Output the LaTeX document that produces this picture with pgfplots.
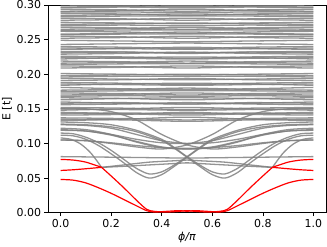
\documentclass[border=0pt]{standalone}
\usepackage{pgfplots}
\pgfplotsset{compat=1.18}
\usepackage{fontspec}
\setmainfont{DejaVu Sans}
\usetikzlibrary{calc}
\newcommand{\sym}[3]{\addplot[gl] coordinates {(0,#1)(0.25,#2)(0.5,#3)(0.75,#2)(1,#1)};}
\begin{document}
\begin{tikzpicture}
\begin{axis}[
  scale only axis, width=278bp, height=207.7bp,
  xmin=-0.05, xmax=1.05, ymin=0, ymax=0.3,
  xtick={0,0.2,0.4,0.6,0.8,1.0},
  ytick={0,0.05,0.10,0.15,0.20,0.25,0.30},
  /pgf/number format/assume math mode=true,
  xticklabel style={/pgf/number format/fixed,/pgf/number format/fixed zerofill,/pgf/number format/precision=1},
  yticklabel style={/pgf/number format/fixed,/pgf/number format/fixed zerofill,/pgf/number format/precision=2},
  tick label style={font=\fontsize{11}{13}\selectfont},
  label style={font=\fontsize{11}{13}\selectfont},
  tick align=outside, tick pos=left, major tick length=3.5bp,
  every tick/.style={black, line width=0.6pt},
  axis line style={line width=0.6pt},
  xlabel={{\itshape ϕ/π}}, ylabel={E [t]},
  xlabel style={yshift=3bp},
  ylabel style={yshift=-2bp},
  gl/.style={color=gray, opacity=0.85, line width=1.3pt, smooth, no markers},
  rl/.style={color=red, line width=1.2pt, smooth, no markers},
]
\coordinate (sw) at (rel axis cs:0,0);
\coordinate (ne) at (rel axis cs:1,1);
% upper dense levels
\sym{0.133}{0.135}{0.138}
\sym{0.135}{0.134}{0.132}
\sym{0.137}{0.136}{0.134}
\sym{0.141}{0.142}{0.145}
\sym{0.143}{0.144}{0.143}
\sym{0.145}{0.143}{0.141}
\sym{0.148}{0.150}{0.152}
\sym{0.150}{0.149}{0.148}
\sym{0.152}{0.151}{0.149}
\sym{0.156}{0.157}{0.159}
\sym{0.158}{0.159}{0.157}
\sym{0.160}{0.158}{0.157}
\sym{0.163}{0.165}{0.166}
\sym{0.166}{0.165}{0.163}
\sym{0.168}{0.169}{0.168}
\sym{0.170}{0.171}{0.173}
\sym{0.173}{0.172}{0.170}
\sym{0.175}{0.176}{0.176}
\sym{0.177}{0.178}{0.180}
\sym{0.181}{0.179}{0.178}
\sym{0.184}{0.186}{0.187}
\sym{0.186}{0.185}{0.184}
\sym{0.188}{0.187}{0.185}
\sym{0.191}{0.192}{0.194}
\sym{0.194}{0.193}{0.192}
\sym{0.196}{0.197}{0.197}
\sym{0.198}{0.199}{0.200}
\sym{0.201}{0.200}{0.199}
\sym{0.209}{0.210}{0.212}
\sym{0.212}{0.211}{0.209}
\sym{0.214}{0.215}{0.215}
\sym{0.216}{0.217}{0.219}
\sym{0.219}{0.218}{0.216}
\sym{0.222}{0.224}{0.225}
\sym{0.224}{0.223}{0.222}
\sym{0.226}{0.225}{0.223}
\sym{0.229}{0.230}{0.232}
\sym{0.231}{0.232}{0.231}
\sym{0.233}{0.232}{0.230}
\sym{0.236}{0.237}{0.239}
\sym{0.238}{0.237}{0.236}
\sym{0.240}{0.239}{0.237}
\sym{0.243}{0.244}{0.245}
\sym{0.249}{0.248}{0.247}
\sym{0.252}{0.253}{0.255}
\sym{0.255}{0.254}{0.252}
\sym{0.257}{0.258}{0.258}
\sym{0.258}{0.259}{0.261}
\sym{0.262}{0.261}{0.259}
\sym{0.263}{0.264}{0.264}
\sym{0.265}{0.266}{0.268}
\sym{0.268}{0.267}{0.265}
\sym{0.270}{0.271}{0.270}
\sym{0.272}{0.273}{0.274}
\sym{0.275}{0.274}{0.273}
\sym{0.278}{0.279}{0.281}
\sym{0.281}{0.280}{0.278}
\sym{0.283}{0.284}{0.284}
\sym{0.285}{0.286}{0.287}
\sym{0.288}{0.287}{0.285}
\sym{0.290}{0.290}{0.289}
\sym{0.291}{0.292}{0.294}
\sym{0.294}{0.293}{0.291}
\sym{0.296}{0.297}{0.296}
\sym{0.297}{0.298}{0.299}
\sym{0.300}{0.299}{0.298}
% flat low lines
\sym{0.081}{0.080}{0.079}
\addplot[gl] coordinates {(0,0.105)(0.1,0.104)(0.2,0.101)(0.3,0.097)(0.4,0.094)(0.5,0.093)(0.6,0.094)(0.7,0.097)(0.8,0.101)(0.9,0.104)(1,0.105)};
% U-shaped crossing pairs
\addplot[gl] coordinates {(0,0.112)(0.05,0.111)(0.1,0.106)(0.15,0.097)(0.2,0.085)(0.25,0.072)(0.3,0.058)(0.35,0.050)(0.4,0.055)(0.45,0.067)(0.5,0.080)(0.55,0.093)(0.6,0.104)(0.7,0.117)(0.8,0.124)(0.9,0.127)(1,0.128)};
\addplot[gl] coordinates {(1,0.112)(0.95,0.111)(0.9,0.106)(0.85,0.097)(0.8,0.085)(0.75,0.072)(0.7,0.058)(0.65,0.050)(0.6,0.055)(0.55,0.067)(0.5,0.080)(0.45,0.093)(0.4,0.104)(0.3,0.117)(0.2,0.124)(0.1,0.127)(0,0.128)};
\addplot[gl] coordinates {(0,0.115)(0.05,0.114)(0.1,0.109)(0.15,0.101)(0.2,0.090)(0.25,0.077)(0.3,0.064)(0.35,0.056)(0.4,0.059)(0.45,0.069)(0.5,0.081)(0.55,0.094)(0.6,0.106)(0.7,0.119)(0.8,0.127)(0.9,0.130)(1,0.131)};
\addplot[gl] coordinates {(1,0.115)(0.95,0.114)(0.9,0.109)(0.85,0.101)(0.8,0.090)(0.75,0.077)(0.7,0.064)(0.65,0.056)(0.6,0.059)(0.55,0.069)(0.5,0.081)(0.45,0.094)(0.4,0.106)(0.3,0.119)(0.2,0.127)(0.1,0.130)(0,0.131)};
\addplot[gl] coordinates {(0,0.122)(0.1,0.120)(0.2,0.113)(0.3,0.102)(0.4,0.094)(0.5,0.092)(0.6,0.095)(0.7,0.103)(0.8,0.112)(0.9,0.118)(1,0.120)};
\addplot[gl] coordinates {(1,0.122)(0.9,0.120)(0.8,0.113)(0.7,0.102)(0.6,0.094)(0.5,0.092)(0.4,0.095)(0.3,0.103)(0.2,0.112)(0.1,0.118)(0,0.120)};
\addplot[gl] coordinates {(0,0.127)(0.1,0.126)(0.2,0.122)(0.3,0.113)(0.4,0.104)(0.5,0.100)(0.6,0.101)(0.7,0.106)(0.8,0.113)(0.9,0.118)(1,0.119)};
\addplot[gl] coordinates {(1,0.127)(0.9,0.126)(0.8,0.122)(0.7,0.113)(0.6,0.104)(0.5,0.100)(0.4,0.101)(0.3,0.106)(0.2,0.113)(0.1,0.118)(0,0.119)};
\addplot[gl] coordinates {(0,0.150)(0.1,0.150)(0.2,0.146)(0.3,0.134)(0.4,0.113)(0.5,0.098)(0.6,0.092)(0.7,0.095)(0.8,0.100)(0.9,0.104)(1,0.105)};
\addplot[gl] coordinates {(1,0.150)(0.9,0.150)(0.8,0.146)(0.7,0.134)(0.6,0.113)(0.5,0.098)(0.4,0.092)(0.3,0.095)(0.2,0.100)(0.1,0.104)(0,0.105)};
% steep gray branches into the crossings
\addplot[gl] coordinates {(0,0.108)(0.04,0.106)(0.08,0.099)(0.12,0.086)(0.162,0.0655)};
\addplot[gl] coordinates {(1,0.108)(0.96,0.106)(0.92,0.099)(0.88,0.086)(0.838,0.0655)};
% continuations after the crossings
\addplot[gl] coordinates {(0.162,0.0655)(0.25,0.067)(0.35,0.069)(0.45,0.071)(0.5,0.072)(0.55,0.071)(0.65,0.069)(0.75,0.067)(0.838,0.0655)};
\addplot[gl] coordinates {(0.162,0.0655)(0.25,0.069)(0.35,0.073)(0.45,0.075)(0.5,0.076)(0.55,0.075)(0.65,0.073)(0.75,0.069)(0.838,0.0655)};
% red lowest bands
\addplot[rl] coordinates {(0,0.048)(0.05,0.047)(0.1,0.043)(0.15,0.036)(0.2,0.028)(0.25,0.019)(0.3,0.010)(0.34,0.003)(0.37,0.001)(0.42,0.002)(0.47,0.003)(0.5,0.002)(0.53,0.003)(0.58,0.002)(0.63,0.001)(0.66,0.003)(0.7,0.010)(0.75,0.019)(0.8,0.028)(0.85,0.036)(0.9,0.043)(0.95,0.047)(1,0.048)};
\addplot[rl] coordinates {(0,0.061)(0.05,0.062)(0.1,0.0635)(0.162,0.0655)};
\addplot[rl] coordinates {(0,0.077)(0.05,0.076)(0.1,0.073)(0.162,0.0655)};
\addplot[rl] coordinates {(0.162,0.0655)(0.2,0.053)(0.25,0.036)(0.3,0.018)(0.34,0.005)(0.37,0.002)(0.42,0.001)(0.47,0.002)(0.5,0.003)(0.53,0.002)(0.58,0.001)(0.63,0.002)(0.66,0.005)(0.7,0.018)(0.75,0.036)(0.8,0.053)(0.838,0.0655)};
\addplot[rl] coordinates {(1,0.061)(0.95,0.062)(0.9,0.0635)(0.838,0.0655)};
\addplot[rl] coordinates {(1,0.077)(0.95,0.076)(0.9,0.073)(0.838,0.0655)};
\end{axis}
\pgfresetboundingbox
\path ($(sw)+(-48bp,-34.3bp)$) rectangle ($(ne)+(1bp,5bp)$);
\end{tikzpicture}
\end{document}
